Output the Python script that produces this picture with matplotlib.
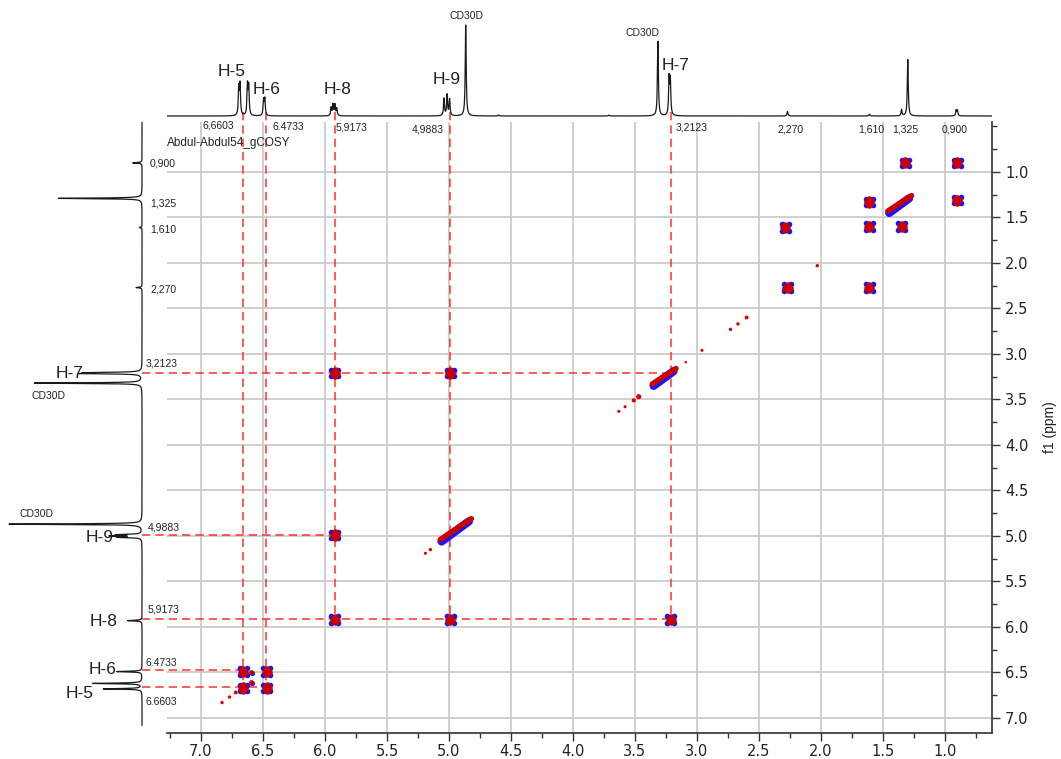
import numpy as np
import matplotlib
matplotlib.use("Agg")
import matplotlib.pyplot as plt
from matplotlib.ticker import MultipleLocator

plt.rcParams["font.family"] = ["Liberation Sans", "DejaVu Sans"]

# 1D proton trace (top projection): peak shifts (ppm) and heights (relative)
top_shift = [6.695, 6.685, 6.625, 6.615, 6.495, 6.485, 5.95, 5.935, 5.92, 5.905,
             5.04, 5.015, 4.995, 4.865, 3.315, 3.225, 3.215, 3.71, 4.6,
             2.27, 1.61, 1.35, 1.30, 0.91, 0.90]
top_height = [0.30, 0.33, 0.33, 0.31, 0.17, 0.18, 0.09, 0.12, 0.12, 0.08,
              0.19, 0.23, 0.18, 1.0, 0.82, 0.40, 0.38, 0.01, 0.01,
              0.05, 0.02, 0.07, 0.62, 0.06, 0.06]

# 1D trace on the left (f1 projection)
left_shift = [0.90, 1.29, 1.61, 2.27, 3.205, 3.215, 3.32, 4.87, 4.985, 5.0, 5.015,
              5.93, 6.49, 6.62, 6.68]
left_height = [0.07, 0.63, 0.02, 0.045, 0.38, 0.41, 0.81, 1.0, 0.18, 0.22, 0.17,
               0.11, 0.19, 0.37, 0.29]

# assigned protons and the dashed guide lines
assign = ["H-5", "H-6", "H-8", "H-9", "H-7"]
assign_ppm = [6.6603, 6.4733, 5.9173, 4.9883, 3.2123]
vline_end = [6.6603, 6.6603, 5.9173, 5.9173, 5.9173]
hline_end = [6.4733, 6.6603, 3.2123, 5.9173, 3.2123]

# COSY cross peaks (f2, f1)
cross_x = [0.90, 1.32, 0.90, 1.61, 1.61, 1.35, 2.29, 1.61, 2.27,
           5.92, 4.99, 5.92, 5.92, 4.99, 3.21, 6.66, 6.47, 6.66, 6.47]
cross_y = [0.90, 0.90, 1.31, 1.33, 1.60, 1.60, 1.61, 2.27, 2.27,
           3.21, 3.21, 4.99, 5.92, 5.92, 5.92, 6.49, 6.49, 6.67, 6.67]
weak_x = [6.59, 6.59]
weak_y = [6.51, 6.62]
# elongated diagonal peaks (start, end ppm)
streak_start = [1.45, 3.35, 5.06]
streak_end = [1.29, 3.19, 4.84]
# small diagonal specks
speck_ppm = [2.03, 2.60, 2.67, 2.73, 2.96, 3.09, 3.47, 3.51, 3.58, 3.63,
             5.15, 5.19, 6.72, 6.77, 6.83]
speck_size = [6, 8, 6, 6, 5, 3, 14, 9, 5, 5, 6, 5, 8, 6, 6]

W, H = 1061, 759
fig = plt.figure(figsize=(W / 100, H / 100), dpi=100)


def px_axes(l, t, r, b):
    return fig.add_axes([l / W, 1 - b / H, (r - l) / W, (b - t) / H])


def ftext(x, y, s, **kw):
    kw.setdefault("ha", "center")
    kw.setdefault("va", "center")
    fig.text(x / W, 1 - y / H, s, **kw)


def trace(grid, shifts, heights, gamma=0.0045):
    out = np.zeros_like(grid)
    for s, h in zip(shifts, heights):
        out += h * gamma ** 2 / (gamma ** 2 + (grid - s) ** 2)
    return out


XL = (7.274, 0.621)
YL = (7.165, 0.451)
grid_col = "#cccccc"
red = "#ff2020"

ax = px_axes(167, 122, 992, 733)
ax.set_xlim(*XL)
ax.set_ylim(*YL)
for side in ["top", "left"]:
    ax.spines[side].set_visible(False)
for side in ["bottom", "right"]:
    ax.spines[side].set_color("#333333")
    ax.spines[side].set_linewidth(1.2)
ax.yaxis.tick_right()
ax.yaxis.set_label_position("right")
ax.xaxis.set_major_locator(MultipleLocator(0.5))
ax.xaxis.set_minor_locator(MultipleLocator(0.25))
ax.yaxis.set_major_locator(MultipleLocator(0.5))
ax.yaxis.set_minor_locator(MultipleLocator(0.25))
ax.tick_params(which="major", direction="out", length=6, width=1, colors="#333333",
               labelsize=10.5, labelcolor="#222222")
ax.tick_params(which="minor", direction="out", length=3.5, width=1, colors="#333333")
ax.tick_params(axis="x", pad=2)
ticks = np.arange(1.0, 7.01, 0.5)
ax.set_xticks(ticks)
ax.set_xticklabels([f"{v:.1f}" for v in ticks], family="DejaVu Sans")
ax.set_yticks(ticks)
ax.set_yticklabels([f"{v:.1f}" for v in ticks], family="DejaVu Sans")
ax.grid(True, which="major", color=grid_col, linewidth=1.3)
ax.set_axisbelow(True)
ax.set_ylabel("f1 (ppm)", fontsize=10, labelpad=10, color="#222222")

# guide lines
for p, ve, he in zip(assign_ppm, vline_end, hline_end):
    ax.plot([p, p], [0.34, ve], color=red, lw=1.2, ls=(0, (5, 3)), alpha=0.85,
            clip_on=False, zorder=2)
    ax.plot([7.476, he], [p, p], color=red, lw=1.2, ls=(0, (5, 3)), alpha=0.85,
            clip_on=False, zorder=2)

# cross peaks: blue and red lobes
dx, dy = 0.028, 0.036
cx = np.array(cross_x)
cy = np.array(cross_y)
for sx, sy in [(-1, -1), (1, -1), (-1, 1), (1, 1)]:
    ax.scatter(cx + sx * dx, cy + sy * dy, s=16, color="#1515ff", lw=0, zorder=3)
for sx, sy in [(-0.6, 0), (0.6, 0), (0, -0.8), (0, 0.8)]:
    ax.scatter(cx + sx * dx, cy + sy * dy, s=22, color="#cc0000", lw=0, zorder=4)
ax.scatter(weak_x, weak_y, s=14, color="#1515ff", lw=0, zorder=3)
ax.scatter(np.array(weak_x) + 0.01, np.array(weak_y) - 0.015, s=12, color="#cc0000",
           lw=0, zorder=4)

for s, e in zip(streak_start, streak_end):
    ax.plot([s, e], [s, e], color="#1515ff", lw=6, solid_capstyle="round", zorder=3)
    ax.plot([s + 0.01, e - 0.02], [s - 0.02, e - 0.03], color="#cc0000", lw=4,
            solid_capstyle="round", zorder=4)

ax.scatter(speck_ppm, speck_ppm, s=speck_size, color="#e00000", lw=0, zorder=4)

# top 1D trace
axt = px_axes(167, 0, 992, 122)
axt.set_xlim(*XL)
axt.set_ylim(-0.066, 1.275)
axt.axis("off")
gx = np.linspace(XL[1], XL[0], 20000)
axt.plot(gx, trace(gx, top_shift, top_height), color="#1a1a1a", lw=0.9)

# left 1D trace
axl = px_axes(0, 122, 160, 733)
axl.set_ylim(*YL)
axl.set_xlim(1.068, -0.135)
axl.axis("off")
gy = np.linspace(0.451, 7.08, 20000)
axl.plot(trace(gy, left_shift, left_height), gy, color="#1a1a1a", lw=0.9)

# annotations
lab = dict(fontsize=12.5, color="#222222")
small = dict(fontsize=7.5, color="#222222")
for s, x, y in [("H-5", 232, 72), ("H-6", 267, 89), ("H-8", 338, 90),
                ("H-9", 447, 79), ("H-7", 676, 66)]:
    ftext(x, y, s, **lab)
ftext(466, 16, "CD30D", **small)
ftext(642, 33, "CD30D", **small)
for s, x, y in [("6,6603", 218, 126), ("6.4733", 288, 127), ("5,9173", 352, 128),
                ("4,9883", 428, 130), ("3,2123", 692, 128), ("2,270", 790, 130),
                ("1,610", 871, 130), ("1,325", 905, 130), ("0,900", 955, 130)]:
    ftext(x, y, s, **small)
ftext(167, 143, "Abdul-Abdul54_gCOSY", ha="left", fontsize=8.5, color="#222222")

for s, x, y in [("0,900", 150, 163), ("1,325", 150, 204), ("1,610", 150, 229),
                ("2,270", 150, 290), ("3,2123", 146, 364), ("4,9883", 148, 527),
                ("5,9173", 148, 610), ("6.4733", 146, 663), ("6.6603", 146, 702)]:
    ftext(x, y, s, ha="left", **small)
for s, x, y in [("H-7", 70, 373), ("H-9", 100, 537), ("H-8", 104, 621),
                ("H-6", 103, 670), ("H-5", 80, 693)]:
    ftext(x, y, s, **lab)
ftext(48, 396, "CD30D", **small)
ftext(37, 514, "CD30D", **small)

fig.savefig("out.png", dpi=100)
